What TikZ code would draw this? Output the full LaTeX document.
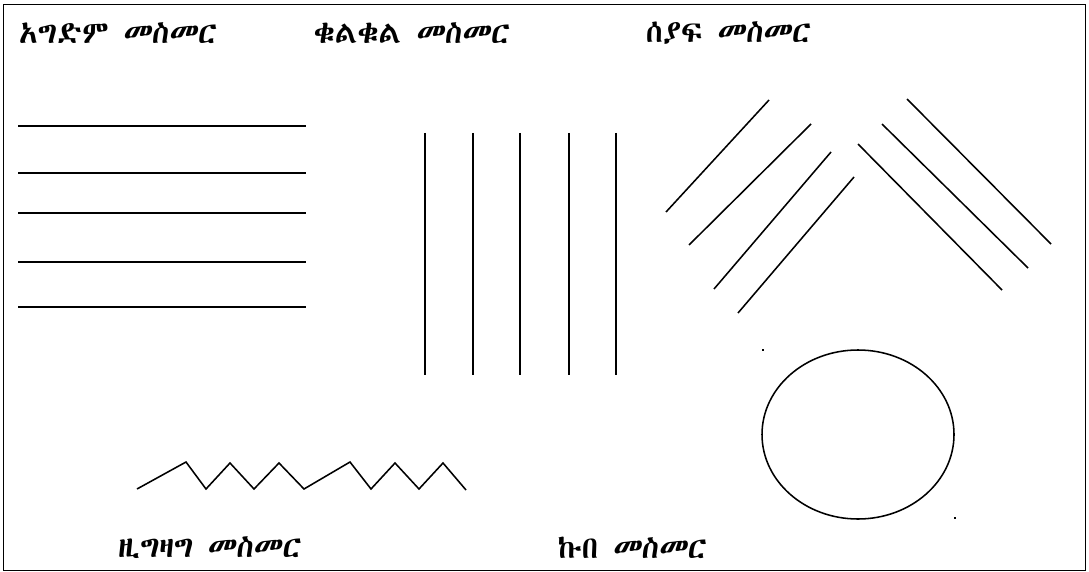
\documentclass[tikz,border=0pt]{standalone}
\usepackage{fontspec}
\newfontfamily\ethfont{Abyssinica SIL}
\newfontfamily\ethslant[FakeSlant=0.12]{Abyssinica SIL}

\begin{document}
\begin{tikzpicture}[x=0.025cm,y=-0.025cm,line width=1.1pt]
	    \tikzstyle{title}=[anchor=west,inner sep=0pt,font=\ethfont\fontsize{22}{22}\selectfont]
	    \tikzstyle{dot}=[fill=black,inner sep=0pt,minimum size=1.8pt]

	    \useasboundingbox (0,0) rectangle (1089,571);
	    \draw[line width=0.7pt] (3,4) rectangle (1085,570);

	    \node[title](agdim) at (18,33){አግድም {\ethslant መስመር}};
	    \node[title](qulqul) at (313,33){ቁልቁል {\ethslant መስመር}};
	    \node[title](seyaf) at (645,33){ሰያፍ {\ethslant መስመር}};
	    \node[title](zigzag) at (117,548){ዚግዛግ {\ethslant መስመር}};
	    \node[title](kub) at (557,548){ኩበ {\ethslant መስመር}};

	    % horizontal lines
	    \foreach \y in {126,173,213,262,307}
	        \draw (18,\y) -- (306,\y);

	    % vertical lines
	    \foreach \x in {425,473,520,569,616}
	        \draw (\x,133) -- (\x,375);

	    % slanted lines
	    \draw (666,212) -- (769,100);
	    \draw (689,245) -- (811,124);
	    \draw (714,289) -- (831,152);
	    \draw (738,313) -- (854,177);
	    \draw (907,99) -- (1051,244);
	    \draw (882,124) -- (1028,268);
	    \draw (858,144) -- (1002,290);

	    % zigzag
	    \draw (137,489) -- (186,462) -- (206,489) -- (230,463) -- (254,489) -- (279,463)
	          -- (304,489) -- (350,462) -- (371,489) -- (395,463) -- (419,489) -- (443,463) -- (466,490);

	    % circle
	    \draw (858,434.5) ellipse [x radius=96,y radius=84.5];
	    \node[dot](c1) at (763,350){};
	    \node[dot](c2) at (955,518){};
	\end{tikzpicture}
\end{document}
